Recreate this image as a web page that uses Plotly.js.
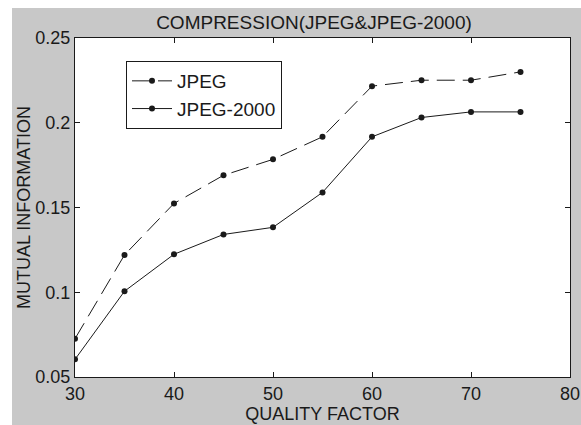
<!DOCTYPE html>
<html>
<head>
<meta charset="utf-8">
<script src="https://cdn.plot.ly/plotly-3.0.1.min.js"></script>
<style>html,body{margin:0;padding:0;background:#fff;}#chart{width:581px;height:425px;}</style>
</head>
<body>
<div id="chart"></div>
<script>
const qualityFactor = [30, 35, 40, 45, 50, 55, 60, 65, 70, 75];
const jpegMI = [0.0726, 0.122, 0.1524, 0.169, 0.1784, 0.1917, 0.2216, 0.2251, 0.2251, 0.230];
const jpeg2000MI = [0.0604, 0.1006, 0.1224, 0.1341, 0.1383, 0.1589, 0.1917, 0.2031, 0.2064, 0.2064];
const xTicks = [30, 40, 50, 60, 70, 80];
const yTicks = [0.05, 0.1, 0.15, 0.2, 0.25];
const yTickText = ['0.05', '0.1', '0.15', '0.2', '0.25'];

const FONT = 'Liberation Sans, Arial, Helvetica, sans-serif';
const INK = '#1a1a1a';

const traces = [
  {
    x: qualityFactor, y: jpegMI, name: 'JPEG', type: 'scatter', mode: 'lines+markers',
    line: {color: INK, width: 1, dash: '18px,8px'},
    marker: {color: INK, size: 6, symbol: 'circle'}
  },
  {
    x: qualityFactor, y: jpeg2000MI, name: 'JPEG-2000', type: 'scatter', mode: 'lines+markers',
    line: {color: INK, width: 1},
    marker: {color: INK, size: 6, symbol: 'circle'}
  }
];

const axisCommon = {
  showgrid: false, zeroline: false, showline: true, linecolor: INK, linewidth: 1,
  mirror: 'ticks', ticks: 'inside', ticklen: 5, tickcolor: INK,
  tickfont: {family: FONT, size: 18, color: INK}
};

const layout = {
  width: 581, height: 425,
  margin: {l: 75, r: 11, t: 38, b: 48},
  paper_bgcolor: '#c8c8c8',
  plot_bgcolor: '#ffffff',
  font: {family: FONT, color: INK},
  title: {
    text: 'COMPRESSION(JPEG&JPEG-2000)',
    font: {family: FONT, size: 19, color: INK},
    x: 314 / 581, xref: 'container', xanchor: 'center',
    y: 1 - 22 / 425, yref: 'container', yanchor: 'middle'
  },
  xaxis: Object.assign({}, axisCommon, {
    range: [30, 80], tickvals: xTicks, ticktext: xTicks.map(String),
    title: {text: 'QUALITY FACTOR', font: {family: FONT, size: 18, color: INK}, standoff: 0}
  }),
  yaxis: Object.assign({}, axisCommon, {
    range: [0.05, 0.25], tickvals: yTicks, ticktext: yTickText,
    title: {text: 'MUTUAL INFORMATION', font: {family: FONT, size: 18, color: INK}, standoff: 0}
  }),
  showlegend: true,
  legend: {
    x: (126 - 75) / 495, xanchor: 'left', y: (377 - 61) / 339, yanchor: 'top',
    bgcolor: '#ffffff', bordercolor: INK, borderwidth: 1,
    font: {family: FONT, size: 19, color: INK},
    itemwidth: 40, tracegroupgap: 0
  },
  shapes: [
    {type: 'rect', xref: 'paper', yref: 'paper', layer: 'above',
     x0: -75 / 495, x1: -63 / 495, y0: -48 / 339, y1: 38 / 339 + 1,
     fillcolor: '#ffffff', line: {width: 0}},
    {type: 'rect', xref: 'paper', yref: 'paper', layer: 'above',
     x0: -75 / 495, x1: 506 / 495, y0: 1 + 30 / 339, y1: 1 + 38 / 339,
     fillcolor: '#ffffff', line: {width: 0}}
  ]
};

Plotly.newPlot('chart', traces, layout, {displayModeBar: false, staticPlot: true});
</script>
</body>
</html>
